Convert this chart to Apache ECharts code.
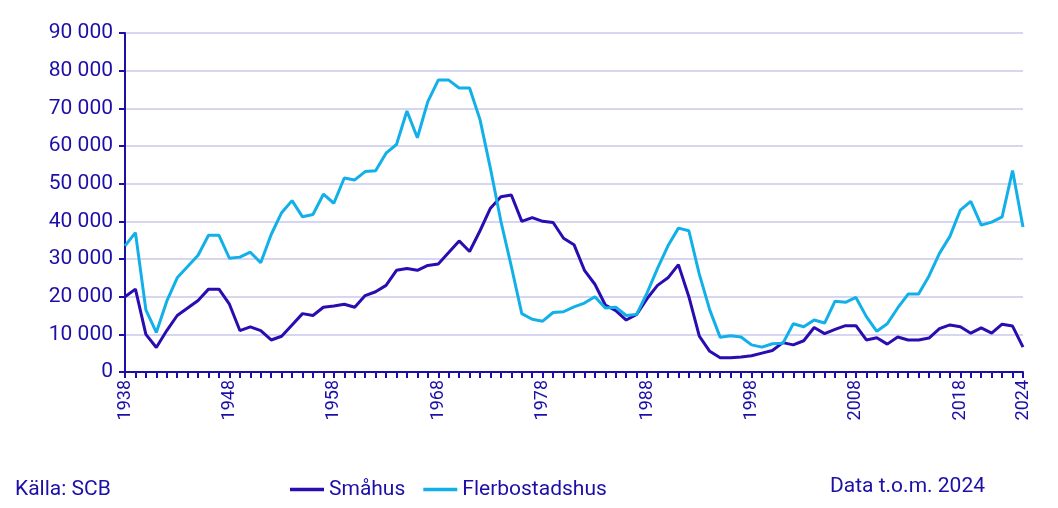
<!DOCTYPE html>
<html><head><meta charset="utf-8">
<script src="https://cdn.jsdelivr.net/npm/echarts@6/dist/echarts.min.js"></script>
<style>html,body{margin:0;padding:0;background:#fff}#c{width:1058px;height:508px}</style>
</head><body><div id="c"></div>
<script>
const years = [];
for (let y = 1938; y <= 2024; y++) years.push(String(y));
const smahus = [20000,22000,10000,6500,11000,15000,17000,19000,22000,22000,18000,11000,12000,11000,8500,9500,12500,15500,15000,17200,17500,18000,17200,20300,21300,23000,27000,27500,27000,28300,28700,31700,34800,32000,37500,43500,46500,47000,40000,41000,40000,39700,35500,33800,27000,23300,17800,16300,13800,15300,19500,23000,25000,28500,20000,9500,5500,3800,3800,4000,4300,5000,5700,7800,7200,8300,11800,10200,11300,12300,12300,8500,9100,7400,9300,8500,8500,9000,11500,12500,12000,10300,11700,10300,12700,12200,6600];
const flerbostadshus = [33500,37000,16500,10500,18800,25000,28000,31000,36300,36300,30200,30500,31800,29000,36500,42300,45500,41200,41800,47200,44800,51500,51000,53200,53400,58100,60400,69300,62200,71800,77500,77500,75400,75400,67000,54000,40000,28000,15500,14000,13500,15800,16000,17300,18300,20000,17000,17200,15000,15300,21000,27500,33500,38200,37500,26000,16500,9200,9600,9300,7200,6600,7500,7600,12800,12000,13800,13000,18800,18500,19800,14700,10800,12800,17000,20700,20700,25500,31500,36000,43000,45300,39000,39800,41200,53500,38500];
const txt = '#1c0fa8';
const chart = echarts.init(document.getElementById('c'));
chart.setOption({
  animation:false,
  textStyle:{fontFamily:'Roboto'},
  grid:{left:125,right:35,top:33,bottom:136},
  legend:{top:474,left:285,itemWidth:34,itemGap:18,icon:'path://M0,0H10V1H0Z',
    textStyle:{color:txt,fontSize:21,fontFamily:'Roboto'},data:['Småhus','Flerbostadshus']},
  graphic:[
    {type:'text',left:15,top:479,style:{text:'Källa: SCB',fill:txt,font:'21px Roboto'}},
    {type:'text',left:830,top:476,style:{text:'Data t.o.m. 2024',fill:txt,font:'21px Roboto'}}
  ],
  xAxis:{type:'category',data:years,boundaryGap:false,
    axisLine:{lineStyle:{color:txt,width:2}},
    axisTick:{interval:0,length:6,lineStyle:{color:txt,width:2}},
    axisLabel:{rotate:90,color:txt,fontSize:18,margin:8,
      interval:(i,v)=> (i%10===0 || v==='2024')}},
  yAxis:{type:'value',min:0,max:90000,interval:10000,
    axisLine:{show:true,lineStyle:{color:txt,width:2}},
    axisTick:{show:true,length:6,lineStyle:{color:txt,width:2}},
    splitLine:{lineStyle:{color:'#c8c8ec',width:1.5}},
    axisLabel:{color:txt,fontSize:21,margin:12,
      formatter:v=>v===0?'0':String(v).replace(/\B(?=(\d{3})+(?!\d))/g,' ')}},
  series:[
    {name:'Småhus',type:'line',data:smahus,symbol:'none',lineStyle:{color:'#2a0cb0',width:3},itemStyle:{color:'#2a0cb0'}},
    {name:'Flerbostadshus',type:'line',data:flerbostadshus,symbol:'none',lineStyle:{color:'#12b0e8',width:3},itemStyle:{color:'#12b0e8'}}
  ]
});
</script></body></html>
